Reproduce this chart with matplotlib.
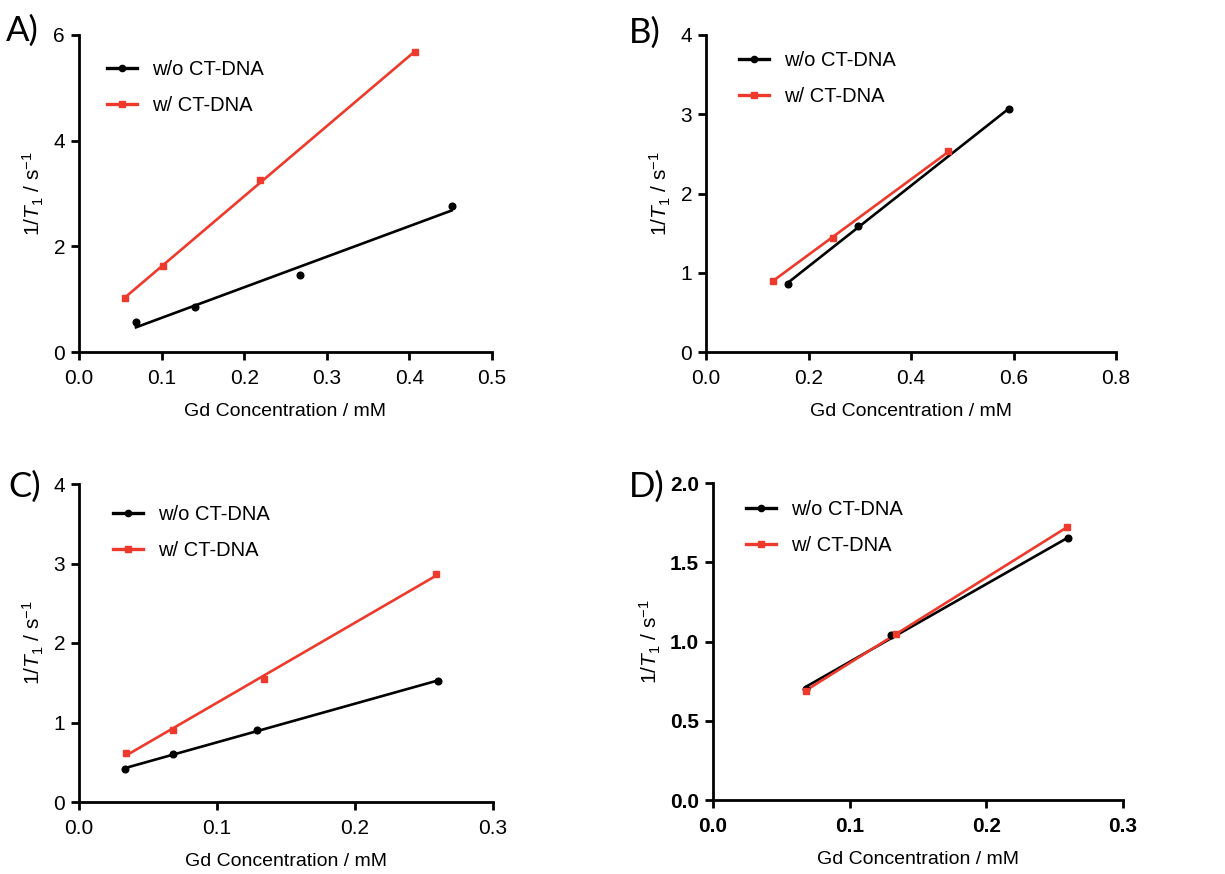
import numpy as np
import matplotlib
matplotlib.use("Agg")
import matplotlib.pyplot as plt
from matplotlib.lines import Line2D

plt.rcParams['font.family'] = ['Liberation Sans', 'DejaVu Sans']
plt.rcParams['mathtext.fontset'] = 'custom'
plt.rcParams['mathtext.rm'] = 'Liberation Sans'
plt.rcParams['mathtext.it'] = 'Liberation Sans:italic'

RED = '#EE3A2C'

# data: Gd concentration (mM) and 1/T1 (s^-1)
a_x_wo = [0.069, 0.140, 0.268, 0.451]
a_y_wo = [0.57, 0.85, 1.45, 2.77]
a_x_w = [0.056, 0.102, 0.219, 0.407]
a_y_w = [1.02, 1.63, 3.26, 5.67]

b_x_wo = [0.160, 0.296, 0.592]
b_y_wo = [0.86, 1.59, 3.07]
b_x_w = [0.130, 0.247, 0.473]
b_y_w = [0.90, 1.44, 2.53]

c_x_wo = [0.033, 0.068, 0.129, 0.260]
c_y_wo = [0.41, 0.60, 0.91, 1.52]
c_x_w = [0.034, 0.068, 0.134, 0.259]
c_y_w = [0.62, 0.91, 1.55, 2.87]

d_x_wo = [0.068, 0.130, 0.260]
d_y_wo = [0.70, 1.04, 1.65]
d_x_w = [0.068, 0.134, 0.259]
d_y_w = [0.69, 1.05, 1.72]

labels = ['w/o CT-DNA', 'w/ CT-DNA']

fig = plt.figure(figsize=(12.25, 8.74), dpi=100)

W, H = 1225.0, 874.0
def make_ax(l, r, t, b):
    return fig.add_axes([l / W, 1 - b / H, (r - l) / W, (b - t) / H])

axA = make_ax(79, 492, 35, 352)
axB = make_ax(706, 1116, 35, 352)
axC = make_ax(79, 493, 484, 802)
axD = make_ax(713, 1123, 483, 800)

panels = [
    (axA, 'A)', a_x_wo, a_y_wo, a_x_w, a_y_w, np.arange(0, 0.51, 0.1), [0, 2, 4, 6], (0.068, 0.92), False),
    (axB, 'B)', b_x_wo, b_y_wo, b_x_w, b_y_w, np.arange(0, 0.81, 0.2), [0, 1, 2, 3, 4], (0.08, 0.95), False),
    (axC, 'C)', c_x_wo, c_y_wo, c_x_w, c_y_w, np.arange(0, 0.31, 0.1), [0, 1, 2, 3, 4], (0.082, 0.933), False),
    (axD, 'D)', d_x_wo, d_y_wo, d_x_w, d_y_w, np.arange(0, 0.31, 0.1), [0, 0.5, 1.0, 1.5, 2.0], (0.08, 0.947), True),
]

for ax, tag, xo, yo, xw, yw, xt, yt, lpos, bold in panels:
    for xs, ys, col, mk in [(xo, yo, 'black', 'o'), (xw, yw, RED, 's')]:
        xs = np.array(xs)
        ys = np.array(ys)
        k, c0 = np.polyfit(xs, ys, 1)
        xx = np.array([xs.min(), xs.max()])
        ax.plot(xx, k * xx + c0, color=col, lw=1.9, zorder=2)
        ax.plot(xs, ys, mk, color=col, ms=4.8, zorder=3)

    ax.set_xlim(xt[0], xt[-1])
    ax.set_ylim(yt[0], yt[-1])
    ax.set_xticks(xt)
    ax.set_yticks(yt)
    ax.set_xticklabels(['%.1f' % v for v in xt])
    if bold:
        ax.set_yticklabels(['%.1f' % v for v in yt])
    else:
        ax.set_yticklabels(['%d' % v for v in yt])
    ax.spines['top'].set_visible(False)
    ax.spines['right'].set_visible(False)
    for s in ['left', 'bottom']:
        ax.spines[s].set_linewidth(2)
    ax.tick_params(direction='out', length=6, width=2, labelsize=15, pad=4)
    ax.tick_params(axis='x', pad=6)
    if bold:
        for t in ax.get_xticklabels() + ax.get_yticklabels():
            t.set_fontweight('bold')
    ax.set_xlabel('Gd Concentration / mM', fontsize=14, labelpad=11)
    ax.set_ylabel(r'1/$T_1$ / s$^{-1}$', fontsize=15, labelpad=5)

    handles = [Line2D([], [], color='black', lw=2.4, marker='o', ms=4.5),
               Line2D([], [], color=RED, lw=2.4, marker='s', ms=4.5)]
    ax.legend(handles, labels, loc='upper left', bbox_to_anchor=lpos, frameon=False,
              fontsize=14.5, handlelength=1.5, handletextpad=0.75, labelspacing=0.85,
              borderpad=0, borderaxespad=0, numpoints=1)

fig.text(6 / W, 1 - 31 / H, 'A)', fontsize=25, family='Lato', va='center')
fig.text(629 / W, 1 - 33 / H, 'B)', fontsize=25, family='Lato', va='center')
fig.text(8 / W, 1 - 487 / H, 'C)', fontsize=25, family='Lato', va='center')
fig.text(629 / W, 1 - 487 / H, 'D)', fontsize=25, family='Lato', va='center')

fig.savefig('out.png', dpi=100)
